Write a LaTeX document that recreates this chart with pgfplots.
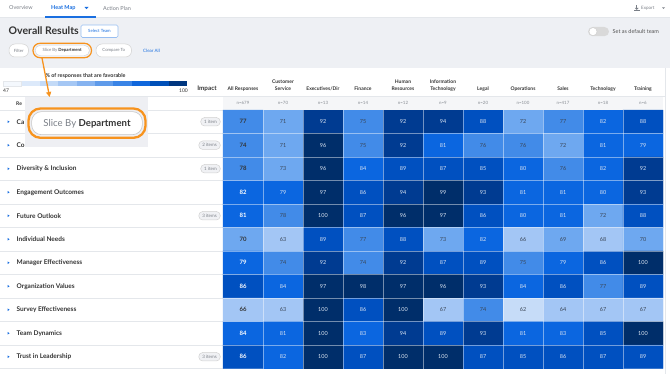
\documentclass[border=0pt]{standalone}
\usepackage{pgfplots}
\pgfplotsset{compat=1.18}
\usepackage{pgfplotstable}
\usetikzlibrary{arrows.meta}
\usepackage{fontspec}
\setmainfont{Lato}
\newcommand\fs[1]{\fontsize{#1}{#1}\selectfont}
\definecolor{bgGray}{HTML}{EEF0F4}
\definecolor{lineGray}{HTML}{E4E7EB}
\definecolor{txt}{HTML}{333333}
\definecolor{txtGray}{HTML}{7A7F87}
\definecolor{linkBlue}{HTML}{1A6FE0}
\definecolor{orangeC}{HTML}{F7931E}
\definecolor{nrow}{HTML}{F5F6F8}
\definecolor{callout}{HTML}{EEEFF3}
\definecolor{badge}{HTML}{F0F1F4}
\definecolor{txtdark}{HTML}{3A4555}
\definecolor{txtlight}{HTML}{DCE5F2}

\pgfplotstableread[row sep=\\]{
x y v\\
0 0 77\\ 1 0 71\\ 2 0 92\\ 3 0 75\\ 4 0 92\\ 5 0 94\\ 6 0 88\\ 7 0 72\\ 8 0 77\\ 9 0 82\\ 10 0 88\\
0 1 74\\ 1 1 71\\ 2 1 96\\ 3 1 75\\ 4 1 92\\ 5 1 81\\ 6 1 76\\ 7 1 76\\ 8 1 72\\ 9 1 81\\ 10 1 79\\
0 2 78\\ 1 2 73\\ 2 2 96\\ 3 2 84\\ 4 2 89\\ 5 2 87\\ 6 2 85\\ 7 2 80\\ 8 2 76\\ 9 2 82\\ 10 2 92\\
0 3 82\\ 1 3 79\\ 2 3 97\\ 3 3 86\\ 4 3 94\\ 5 3 99\\ 6 3 93\\ 7 3 81\\ 8 3 81\\ 9 3 80\\ 10 3 93\\
0 4 81\\ 1 4 78\\ 2 4 100\\ 3 4 87\\ 4 4 96\\ 5 4 97\\ 6 4 86\\ 7 4 80\\ 8 4 81\\ 9 4 72\\ 10 4 88\\
0 5 70\\ 1 5 63\\ 2 5 89\\ 3 5 77\\ 4 5 88\\ 5 5 73\\ 6 5 82\\ 7 5 66\\ 8 5 69\\ 9 5 68\\ 10 5 70\\
0 6 79\\ 1 6 74\\ 2 6 92\\ 3 6 74\\ 4 6 92\\ 5 6 87\\ 6 6 89\\ 7 6 75\\ 8 6 79\\ 9 6 86\\ 10 6 100\\
0 7 86\\ 1 7 84\\ 2 7 97\\ 3 7 98\\ 4 7 97\\ 5 7 96\\ 6 7 93\\ 7 7 84\\ 8 7 86\\ 9 7 77\\ 10 7 89\\
0 8 66\\ 1 8 63\\ 2 8 100\\ 3 8 86\\ 4 8 100\\ 5 8 67\\ 6 8 74\\ 7 8 62\\ 8 8 64\\ 9 8 67\\ 10 8 67\\
0 9 84\\ 1 9 81\\ 2 9 100\\ 3 9 83\\ 4 9 94\\ 5 9 89\\ 6 9 93\\ 7 9 81\\ 8 9 83\\ 9 9 85\\ 10 9 100\\
0 10 86\\ 1 10 82\\ 2 10 100\\ 3 10 87\\ 4 10 100\\ 5 10 100\\ 6 10 87\\ 7 10 85\\ 8 10 86\\ 9 10 87\\ 10 10 89\\
}\heatdata

\begin{document}
\begin{tikzpicture}[x=1pt,y=1pt]
\path[use as bounding box] (0,0) rectangle (670,-374);
\fill[white] (0,0) rectangle (670,-374);
\fill[bgGray] (0,-17.5) rectangle (670,-68);
\draw[lineGray,line width=0.5] (0,-17.5) -- (670,-17.5);
\draw[lineGray,line width=0.5] (665,-68) -- (665,-374);
% tabs
\node[anchor=west,font=\fs{5.5},text=txtGray,inner sep=0] at (9,-8) {Overview};
\node[anchor=west,font=\fs{5.5}\bfseries,text=linkBlue,inner sep=0] at (51,-8) {Heat Map};
\fill[linkBlue] (84.5,-7) -- (88.5,-7) -- (86.5,-9.2) -- cycle;
\fill[linkBlue] (45,-16.2) rectangle (96,-18.3);
\node[anchor=west,font=\fs{5.5},text=txtGray,inner sep=0] at (103,-8) {Action Plan};
% export
\fill[txtGray] (634,-10.2) rectangle (639.5,-11.2);
\fill[txtGray] (636.2,-5) rectangle (637.3,-8);
\fill[txtGray] (634.8,-7.8) -- (638.7,-7.8) -- (636.75,-9.8) -- cycle;
\node[anchor=west,font=\fs{4.5},text=txtGray,inner sep=0] at (641,-8) {Export};
\fill[txtGray] (662,-7.3) -- (665,-7.3) -- (663.5,-9) -- cycle;
% title row
\node[anchor=west,font=\fs{10.5}\bfseries,text=txt,inner sep=0] at (8.5,-31) {Overall Results};
\draw[linkBlue!45,fill=white,line width=0.6,rounded corners=1.5] (81,-25) rectangle (118,-37.5);
\node[font=\fs{4.3},text=linkBlue,inner sep=0] at (99.5,-31.2) {Select Team};
\fill[gray!30,rounded corners=4.6] (588,-27) rectangle (609,-36.2);
\fill[white] (593,-31.6) circle (4);
\draw[gray!45,line width=0.3] (593,-31.6) circle (4);
\node[anchor=west,font=\fs{5.5},text=txt!85,inner sep=0] at (612.5,-31.6) {Set as default team};
% pills
\draw[gray!35,fill=white,line width=0.5,rounded corners=6] (9,-44) rectangle (28.5,-57);
\node[font=\fs{4.3},text=txtGray,inner sep=0] at (18.75,-50.5) {Filter};
\draw[orangeC,line width=1.2,rounded corners=7] (33,-43.3) rectangle (91.5,-57.7);
\draw[gray!35,fill=white,line width=0.4,rounded corners=5.5] (35,-45.2) rectangle (89.5,-55.8);
\node[font=\fs{4.3},text=txtGray,inner sep=0] at (62.2,-50.5) {Slice By \textcolor{txt}{\bfseries Department}};
\draw[gray!35,fill=white,line width=0.5,rounded corners=6] (96,-44) rectangle (131.5,-57);
\node[font=\fs{4.3},text=txtGray,inner sep=0] at (113.75,-50.5) {Compare To};
\node[font=\fs{4.5},text=linkBlue,inner sep=0] at (151.5,-50.5) {Clear All};
% legend
\node[anchor=west,font=\fs{5.4}\bfseries,text=txt,inner sep=0] at (45.5,-76.3) {\% of responses that are favorable};
\foreach \c [count=\i from 0] in {F4F8FD,DCE9FA,C3DAF7,A5C7F4,86B3F0,5F9BEA,3A84E6,1067DC,0050B8,00367F}{
  \definecolor{segc}{HTML}{\c}
  \fill[segc] ({3+\i*18.4},-81) rectangle ({3+(\i+1)*18.4},-86);
}
\draw[lineGray,line width=0.3] (3,-81) rectangle (21.4,-86);
\node[anchor=west,font=\fs{5},text=txt,inner sep=0] at (3,-90.6) {47};
\node[anchor=east,font=\fs{5},text=txt,inner sep=0] at (188,-90.6) {100};
\node[font=\fs{6.3}\bfseries,text=txt,inner sep=0] at (207,-89) {Impact};
% column headers
\foreach \lab [count=\i from 0] in {All Responses,Service,Executives/Dir,Finance,Resources,Technology,Legal,Operations,Sales,Technology,Training}{
  \node[anchor=base,font=\fs{5}\bfseries,text=txt,inner sep=0] at ({243+40*\i},-91) {\lab};
}
\node[anchor=base,font=\fs{5}\bfseries,text=txt,inner sep=0] at (283,-83.4) {Customer};
\node[anchor=base,font=\fs{5}\bfseries,text=txt,inner sep=0] at (403,-83.4) {Human};
\node[anchor=base,font=\fs{5}\bfseries,text=txt,inner sep=0] at (443,-83.4) {Information};
\draw[lineGray,line width=0.6] (0,-96.3) -- (665,-96.3);
\fill[nrow] (223,-96.6) rectangle (663,-110);
\foreach \n [count=\i from 0] in {679,70,13,14,12,9,20,100,417,18,6}{
  \node[font=\fs{4.4},text=txtGray!90,inner sep=0] at ({243+40*\i},-103.3) {n=\n};
}
\node[anchor=west,font=\fs{5}\bfseries,text=txt,inner sep=0] at (16,-103.3) {Re};
% row labels
\foreach \k in {0,...,11}{
  \draw[lineGray,line width=0.5] (0,{-110-23.5*\k}) -- (223,{-110-23.5*\k});
}
\foreach \lab [count=\k from 0] in {Ca,Co,{Diversity \& Inclusion},Engagement Outcomes,Future Outlook,Individual Needs,Manager Effectiveness,Organization Values,Survey Effectiveness,Team Dynamics,Trust in Leadership}{
  \node[anchor=west,font=\fs{6.5}\bfseries,text=txt,inner sep=0] at (16.5,{-121.75-23.5*\k}) {\lab};
  \fill[linkBlue] (7.6,{-121.75-23.5*\k+1.3}) -- (9.6,{-121.75-23.5*\k}) -- (7.6,{-121.75-23.5*\k-1.3}) -- cycle;
}
\foreach \k/\b in {0/1 item,1/2 items,2/1 item,4/3 items,10/3 items}{
  \node[anchor=east,draw=gray!35,fill=badge,line width=0.5,rounded corners=4,font=\fs{4.5},text=txtGray,minimum height=8.5,inner xsep=3.5,inner ysep=0] at (220.5,{-121.75-23.5*\k}) {\b};
}
% callout
\fill[callout] (25,-96.6) rectangle (147.5,-147);
\draw[orangeC,line width=2.3,rounded corners=12] (28.5,-108.5) rectangle (145.5,-137.8);
\draw[gray!45,fill=white,line width=0.6,rounded corners=10] (31.6,-111.6) rectangle (142.4,-134.7);
\node[font=\fs{9.6},text=txtGray,inner sep=0] at (87,-123.3) {Slice By \textcolor{txt}{\bfseries Department}};
\draw[orangeC,line width=1.3,-{Triangle[length=5pt,width=5pt]}] (42,-58) -- (49.6,-97);
% heat map
\begin{axis}[
  at={(223pt,-110pt)}, anchor=north west,
  scale only axis, width=440pt, height=258.5pt,
  xmin=-0.5, xmax=10.5, ymin=-0.5, ymax=10.5, y dir=reverse,
  hide axis, clip=false,
  point meta min=47, point meta max=100.5,
  colormap={heat}{rgb255(47pt)=(198,220,248) rgb255(62.5pt)=(163,198,245) rgb255(68.5pt)=(110,168,240) rgb255(73.5pt)=(66,139,232) rgb255(78.5pt)=(11,102,224) rgb255(84.5pt)=(0,80,192) rgb255(91.5pt)=(0,59,145) rgb255(95.5pt)=(0,46,106) rgb255(100.5pt)=(0,46,106)},
  colormap access=piecewise constant,
]
\addplot[matrix plot*, mesh/cols=11, point meta=explicit] table[x=x,y=y,meta=v]{\heatdata};
\pgfplotsinvokeforeach{0,...,9}{
  \draw[white,opacity=0.45,line width=0.6] (axis cs:#1+0.5,-0.5) -- (axis cs:#1+0.5,10.5);
  \draw[white,opacity=0.45,line width=0.6] (axis cs:-0.5,#1+0.5) -- (axis cs:10.5,#1+0.5);
}
\addplot[draw=none, mark=none, point meta=explicit,
  visualization depends on={\thisrow{v} \as \cellval},
  visualization depends on={\thisrow{x} \as \colx},
  nodes near coords={\ifdim\cellval pt<78.5pt\color{txtdark}\else\color{txtlight}\fi\ifdim\colx pt<0.5pt\fs{6}\bfseries\ifdim\cellval pt<78.5pt\color{txt}\else\color{white}\fi\fi\pgfmathprintnumber[fixed,precision=0,assume math mode=true]{\cellval}},
  every node near coord/.append style={anchor=center, font=\fs{5.5}, inner sep=0pt},
] table[x=x,y=y,meta=v]{\heatdata};
\end{axis}
\end{tikzpicture}
\end{document}
